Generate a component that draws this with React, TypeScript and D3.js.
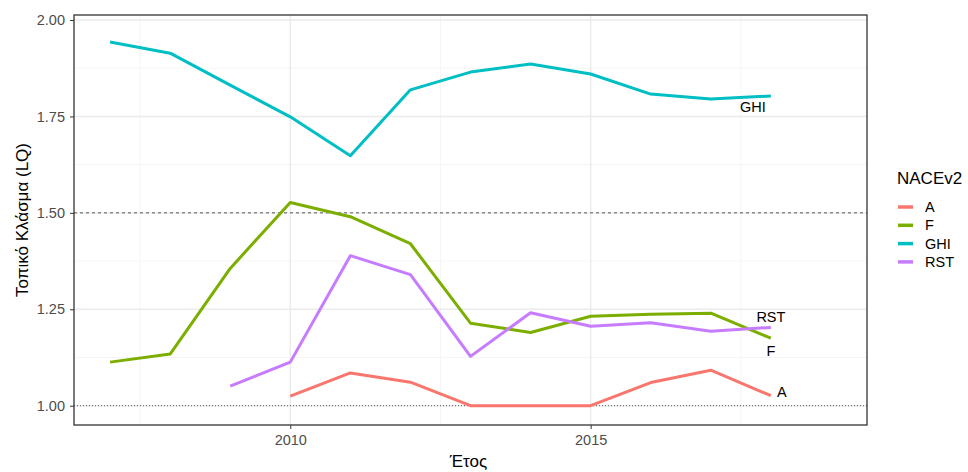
import React, { useEffect, useRef } from 'react'
import * as d3 from 'd3'

const years = [2007, 2008, 2009, 2010, 2011, 2012, 2013, 2014, 2015, 2016, 2017, 2018]
const sectors = ['A', 'F', 'GHI', 'RST']
const colors = ['#F8766D', '#7CAE00', '#00BFC4', '#C77CFF']

// null = no value for that year
const valuesA = [null, null, null, 1.025, 1.085, 1.061, 1.0, 1.0, 1.0, 1.06, 1.092, 1.026]
const valuesF = [1.113, 1.134, 1.356, 1.527, 1.49, 1.42, 1.214, 1.19, 1.232, 1.237, 1.24, 1.175]
const valuesGHI = [1.943, 1.914, 1.831, 1.749, 1.648, 1.819, 1.865, 1.886, 1.86, 1.808, 1.795, 1.803]
const valuesRST = [null, null, 1.051, 1.113, 1.389, 1.34, 1.128, 1.241, 1.206, 1.215, 1.193, 1.203]

const yTicks = [1.0, 1.25, 1.5, 1.75, 2.0]
const yMinor = [1.125, 1.375, 1.625, 1.875]
const xTicks = [2010, 2015]
const xMinor = [2007.5, 2012.5, 2017.5]

const W = 968
const H = 472
const margin = { top: 15, right: 101, bottom: 47, left: 74 }
const font = '"Liberation Sans", Arial, sans-serif'

// label nudges (px) from the last point of each line
const labelNudge = [
  { dx: 11, dy: -4 },
  { dx: 0, dy: 13 },
  { dx: -18, dy: 11 },
  { dx: 0, dy: -10 },
]

const App = () => {
  const ref = useRef(null)
  const series = [valuesA, valuesF, valuesGHI, valuesRST]

  useEffect(() => {
    const svg = d3.select(ref.current)
    svg.selectAll('*').remove()

    const pw = W - margin.left - margin.right
    const ph = H - margin.top - margin.bottom
    const x = d3.scaleLinear().domain([2006.4, 2019.6]).range([0, pw])
    const y = d3.scaleLinear().domain([0.95, 2.013]).range([ph, 0])

    const g = svg.append('g').attr('transform', `translate(${margin.left},${margin.top})`)

    // grid
    g.selectAll('.ymin').data(yMinor).enter().append('line')
      .attr('x1', 0).attr('x2', pw).attr('y1', d => y(d)).attr('y2', d => y(d))
      .attr('stroke', '#F2F2F2').attr('stroke-width', 0.8)
    g.selectAll('.xmin').data(xMinor).enter().append('line')
      .attr('y1', 0).attr('y2', ph).attr('x1', d => x(d)).attr('x2', d => x(d))
      .attr('stroke', '#F2F2F2').attr('stroke-width', 0.8)
    g.selectAll('.ymaj').data(yTicks).enter().append('line')
      .attr('x1', 0).attr('x2', pw).attr('y1', d => y(d)).attr('y2', d => y(d))
      .attr('stroke', '#EBEBEB').attr('stroke-width', 1.4)
    g.selectAll('.xmaj').data(xTicks).enter().append('line')
      .attr('y1', 0).attr('y2', ph).attr('x1', d => x(d)).attr('x2', d => x(d))
      .attr('stroke', '#EBEBEB').attr('stroke-width', 1.4)

    // reference lines
    g.append('line').attr('x1', 0).attr('x2', pw).attr('y1', y(1.5)).attr('y2', y(1.5))
      .attr('stroke', '#555').attr('stroke-width', 1).attr('stroke-dasharray', '3,3')
    g.append('line').attr('x1', 0).attr('x2', pw).attr('y1', y(1.0)).attr('y2', y(1.0))
      .attr('stroke', '#333').attr('stroke-width', 0.8).attr('stroke-dasharray', '1,2')

    const line = d3.line()
      .defined(d => d[1] != null)
      .x(d => x(d[0]))
      .y(d => y(d[1]))

    series.forEach((vals, i) => {
      const pts = years.map((yr, j) => [yr, vals[j]])
      g.append('path').datum(pts)
        .attr('d', line)
        .attr('fill', 'none')
        .attr('stroke', colors[i])
        .attr('stroke-width', 3)
        .attr('stroke-linejoin', 'round')
      const last = pts[pts.length - 1]
      g.append('text')
        .attr('x', x(last[0]) + labelNudge[i].dx)
        .attr('y', y(last[1]) + labelNudge[i].dy)
        .attr('text-anchor', 'middle')
        .attr('dominant-baseline', 'central')
        .attr('font-family', font)
        .attr('font-size', 14.5)
        .attr('fill', '#000')
        .text(sectors[i])
    })

    // panel border
    g.append('rect').attr('width', pw).attr('height', ph)
      .attr('fill', 'none').attr('stroke', '#333').attr('stroke-width', 1.3)

    // axes
    const ya = g.append('g').call(d3.axisLeft(y).tickValues(yTicks).tickFormat(d3.format('.2f')).tickSize(4).tickPadding(5))
    ya.select('.domain').remove()
    ya.selectAll('line').attr('stroke', '#333')
    ya.selectAll('text').attr('fill', '#4D4D4D').attr('font-size', 14.5).attr('font-family', font)

    const xa = g.append('g').attr('transform', `translate(0,${ph})`)
      .call(d3.axisBottom(x).tickValues(xTicks).tickFormat(d3.format('d')).tickSize(4).tickPadding(5.5))
    xa.select('.domain').remove()
    xa.selectAll('line').attr('stroke', '#333')
    xa.selectAll('text').attr('fill', '#4D4D4D').attr('font-size', 14.5).attr('font-family', font)

    // axis titles
    svg.append('text')
      .attr('x', margin.left + pw / 2 - 2).attr('y', H - 5)
      .attr('text-anchor', 'middle').attr('font-family', font).attr('font-size', 17)
      .text('Έτος')
    svg.append('text')
      .attr('transform', `translate(28,${margin.top + ph / 2}) rotate(-90)`)
      .attr('text-anchor', 'middle').attr('font-family', font).attr('font-size', 17)
      .text('Τοπικό Κλάσμα (LQ)')

    // legend
    const lg = svg.append('g').attr('transform', 'translate(897,0)')
    lg.append('text').attr('x', 0).attr('y', 184)
      .attr('font-family', font).attr('font-size', 17).text('NACEv2')
    sectors.forEach((s, i) => {
      const cy = 207 + i * 18.3
      lg.append('line').attr('x1', 1).attr('x2', 16).attr('y1', cy).attr('y2', cy)
        .attr('stroke', colors[i]).attr('stroke-width', 3.5)
      lg.append('text').attr('x', 28).attr('y', cy).attr('dominant-baseline', 'central')
        .attr('font-family', font).attr('font-size', 14.5).text(s)
    })
  }, [])

  return (
    <svg ref={ref} width={W} height={H}
      style={{ position: 'absolute', left: 0, top: 0, background: '#fff' }} />
  )
}

export default App
